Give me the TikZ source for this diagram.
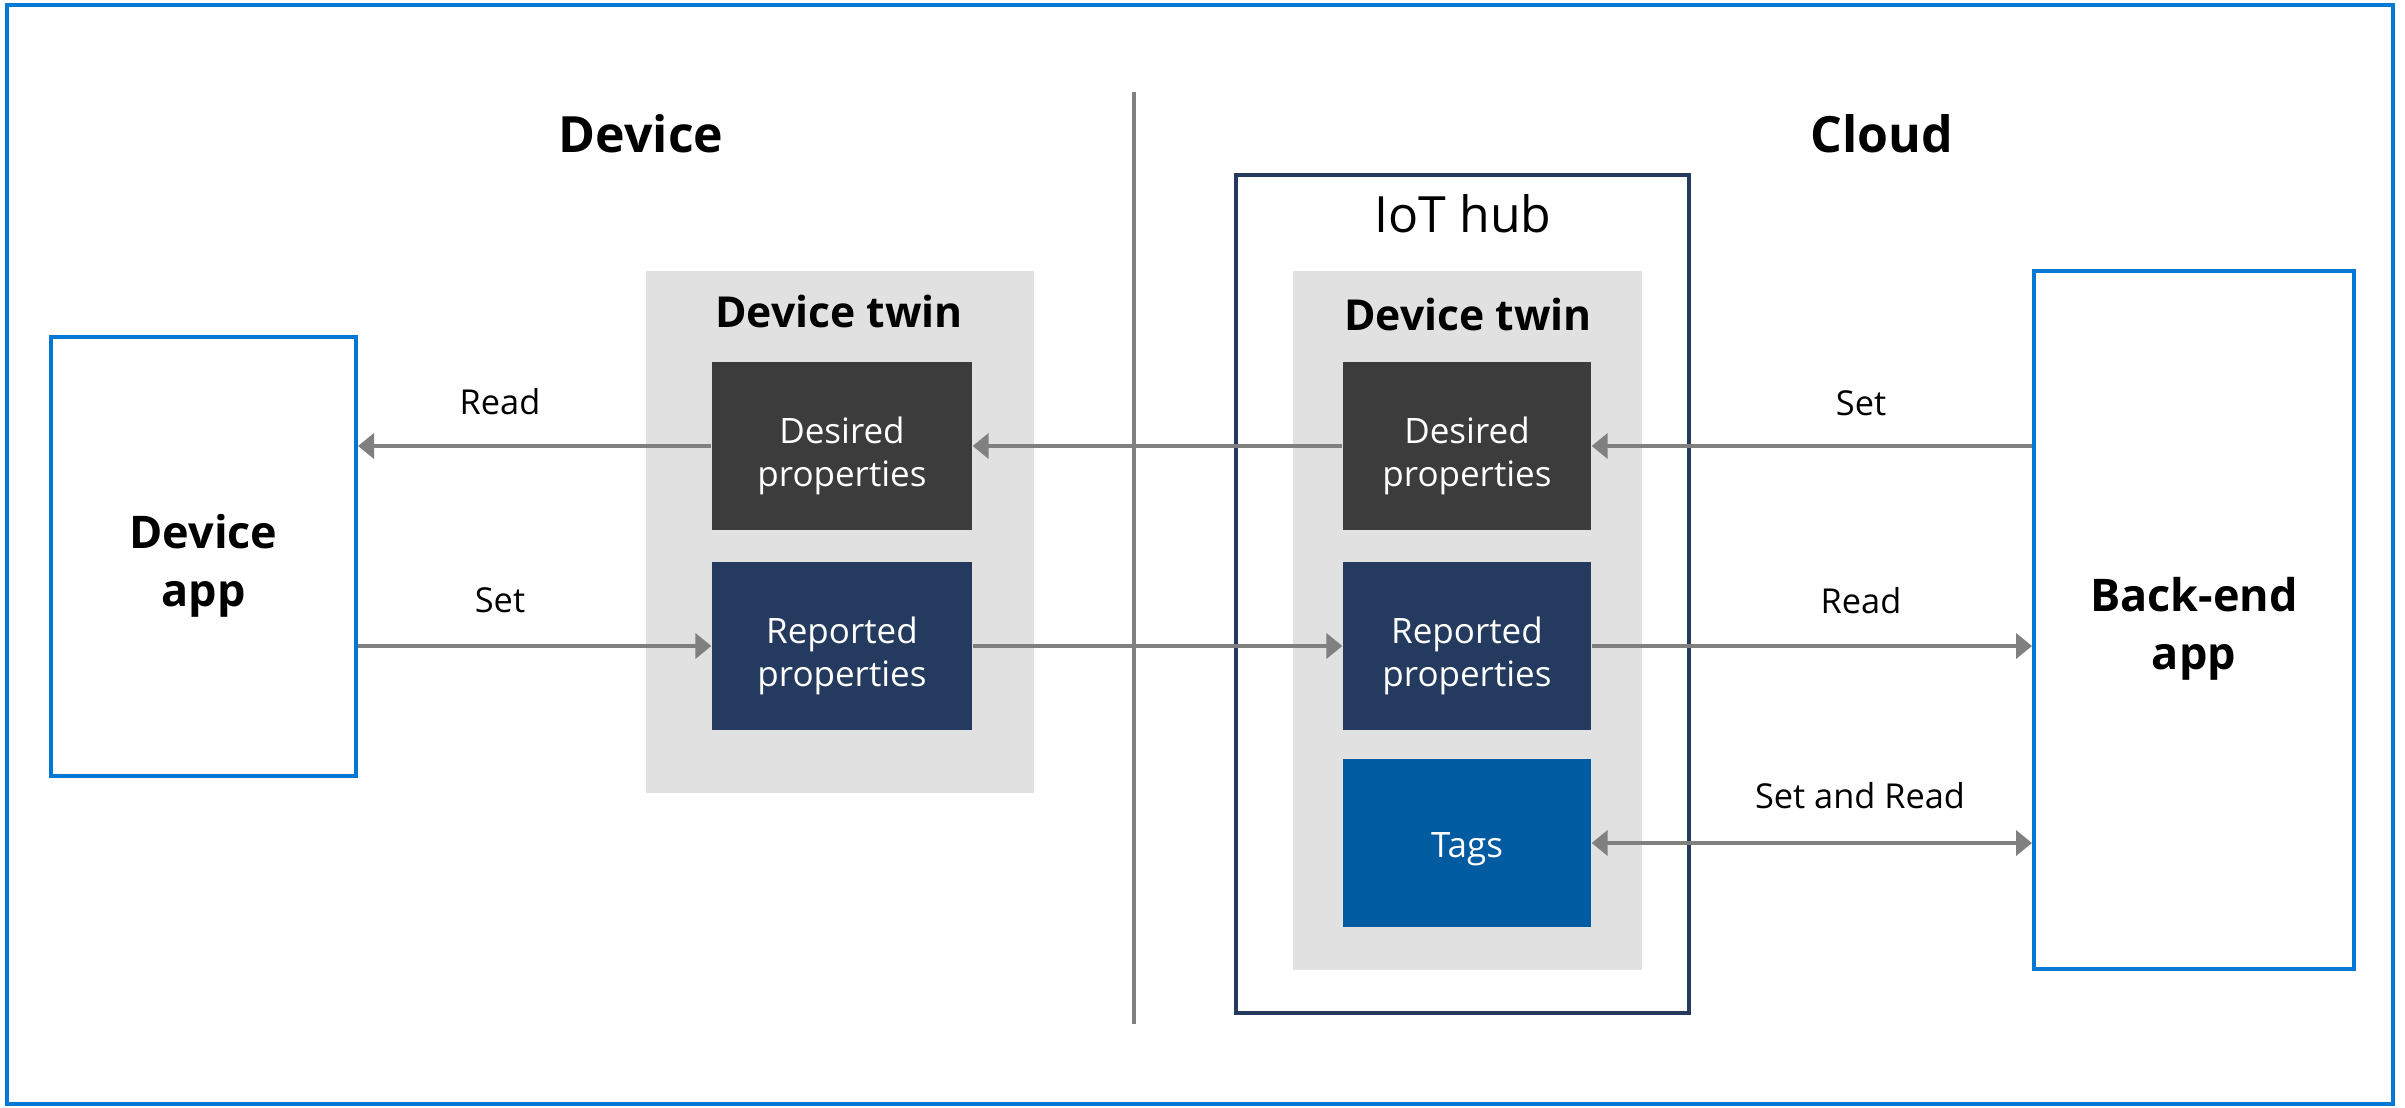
\documentclass[tikz,border=0pt]{standalone}
\usepackage{fontspec}
\setmainfont{Open Sans}
\usetikzlibrary{arrows.meta}
\definecolor{frameblue}{HTML}{0078D4}
\definecolor{hubnavy}{HTML}{243A5E}
\definecolor{panelgray}{HTML}{E1E1E1}
\definecolor{desiredgray}{HTML}{3C3C3C}
\definecolor{reportednavy}{HTML}{243A5E}
\definecolor{tagsblue}{HTML}{005BA1}
\definecolor{arrowgray}{HTML}{808080}
\newcommand{\propstrut}{\rule{0pt}{14pt}}
\newcommand{\appstrut}{\rule{0pt}{15.6pt}}
\begin{document}
\begin{tikzpicture}[x=0.3pt,y=-0.3pt,
  appbox/.style={draw=frameblue, line width=1.2pt, fill=white, inner sep=0pt, align=center,
    font=\fontsize{13.5}{17.4}\selectfont\bfseries},
  panel/.style={fill=panelgray, inner sep=0pt},
  propbox/.style={inner sep=0pt, text=white, align=center, minimum width=75pt, minimum height=50.5pt,
    font=\fontsize{10.5}{12.9}\selectfont},
  sectiontitle/.style={font=\fontsize{15}{18}\selectfont\bfseries},
  twintitle/.style={font=\fontsize{12.8}{15}\selectfont\bfseries},
  flowlabel/.style={font=\fontsize{10.3}{12}\selectfont},
  flow/.style={draw=arrowgray, line width=1.2pt, -{Triangle[length=4.8pt,width=7.5pt]}},
  flowboth/.style={draw=arrowgray, line width=1.2pt, {Triangle[length=4.8pt,width=7.5pt]}-{Triangle[length=4.8pt,width=7.5pt]}}
]
\useasboundingbox (0,0) rectangle (2405,1108);
% outer frame
\draw[frameblue, line width=1.2pt] (7,5) rectangle (2393,1104);

% section titles
\node[sectiontitle] (devtitle) at (641,134) {Device};
\node[sectiontitle] (cloudtitle) at (1882,134) {Cloud};

% divider
\draw[arrowgray, line width=1.1pt] (1134,92) -- (1134,1024);

% device app
\node[appbox, minimum width=91.5pt, minimum height=131.7pt] (devapp) at (203.5,556.5) {\appstrut Device\\app};

% left device twin panel
\node[panel, minimum width=116.4pt, minimum height=156.6pt] (lpanel) at (840,532) {};
\node[twintitle] (ltwin) at (839,312) {Device twin};
\node[propbox, fill=desiredgray, minimum width=78pt] (ldes) at (842,446) {\propstrut Desired\\properties};
\node[propbox, fill=reportednavy, minimum width=78pt] (lrep) at (842,646) {\propstrut Reported\\properties};

% IoT hub
\node[draw=hubnavy, line width=1.2pt, inner sep=0pt, minimum width=135.9pt, minimum height=251.4pt] (hub) at (1462.5,594) {};
\node[font=\fontsize{15}{18}\selectfont] (hubtitle) at (1463,214) {IoT hub};
\node[panel, minimum width=104.7pt, minimum height=209.7pt] (rpanel) at (1467.5,620.5) {};
\node[twintitle] (rtwin) at (1468,315) {Device twin};
\node[propbox, fill=desiredgray, minimum width=74.4pt] (rdes) at (1467,446) {\propstrut Desired\\properties};
\node[propbox, fill=reportednavy, minimum width=74.4pt] (rrep) at (1467,646) {\propstrut Reported\\properties};
\node[propbox, fill=tagsblue, minimum width=74.4pt] (tags) at (1467,843) {\rule{0pt}{11.2pt}Tags};

% back-end app
\node[appbox, minimum width=96pt, minimum height=209.4pt] (backend) at (2194,620) {\appstrut Back-end\\app};

% connectors
\draw[flow] (ldes.west) -- (ldes.west -| devapp.east);
\draw[flow] (rdes.west) -- (ldes.east);
\draw[flow] (rdes.east -| backend.west) -- (rdes.east);
\draw[flow] (lrep.west -| devapp.east) -- (lrep.west);
\draw[flow] (lrep.east) -- (rrep.west);
\draw[flow] (rrep.east) -- (rrep.east -| backend.west);
\draw[flowboth] (tags.east) -- (tags.east -| backend.west);

% connector labels
\node[flowlabel] (lread) at (500,402) {Read};
\node[flowlabel] (lset) at (500,600) {Set};
\node[flowlabel] (rset) at (1861,403) {Set};
\node[flowlabel] (rread) at (1861,601) {Read};
\node[flowlabel] (rsetread) at (1860,796) {Set and Read};
\end{tikzpicture}
\end{document}
